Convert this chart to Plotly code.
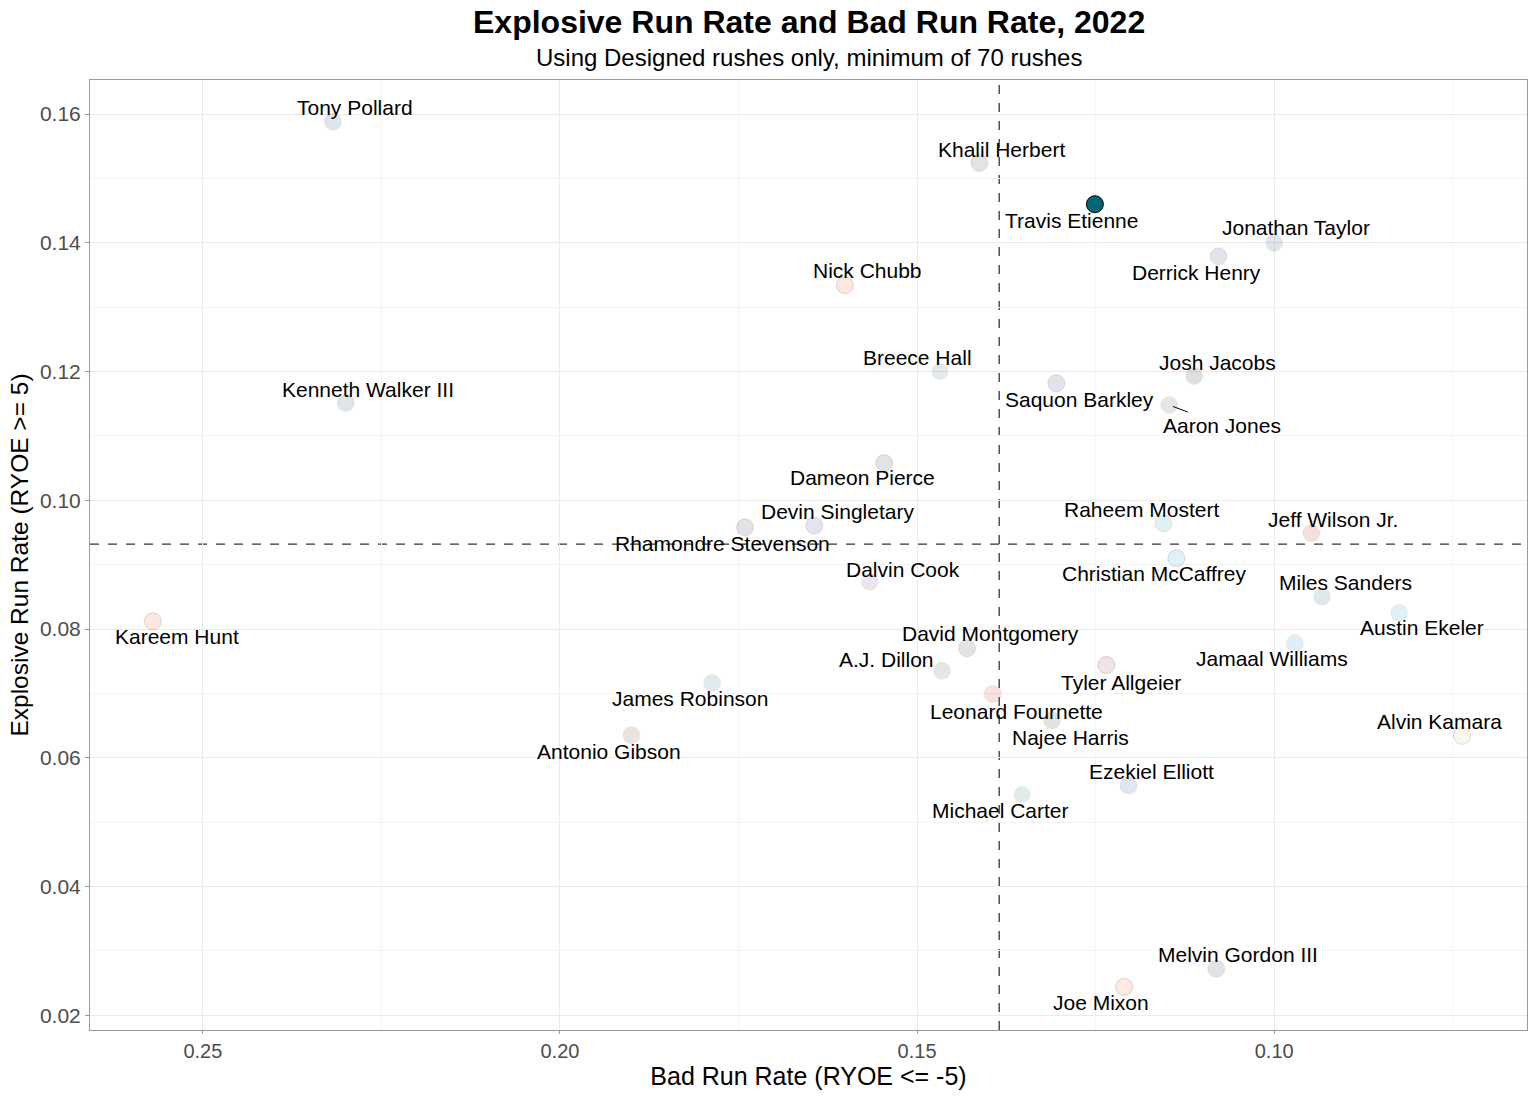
import plotly.graph_objects as go

players = ["Tony Pollard", "Khalil Herbert", "Travis Etienne", "Jonathan Taylor", "Derrick Henry",
           "Nick Chubb", "Breece Hall", "Saquon Barkley", "Josh Jacobs", "Aaron Jones",
           "Kenneth Walker III", "Dameon Pierce", "Devin Singletary", "Rhamondre Stevenson",
           "Raheem Mostert", "Jeff Wilson Jr.", "Christian McCaffrey", "Dalvin Cook",
           "Miles Sanders", "Austin Ekeler", "Kareem Hunt", "Jamaal Williams", "David Montgomery",
           "Tyler Allgeier", "A.J. Dillon", "James Robinson", "Leonard Fournette", "Najee Harris",
           "Antonio Gibson", "Alvin Kamara", "Ezekiel Elliott", "Michael Carter",
           "Melvin Gordon III", "Joe Mixon"]

bad_rate = [0.2318, 0.1413, 0.1251, 0.1000, 0.1078,
            0.1601, 0.1468, 0.1305, 0.1112, 0.1147,
            0.2300, 0.1546, 0.1644, 0.1741,
            0.1155, 0.0948, 0.1137, 0.1566,
            0.0933, 0.0825, 0.2570, 0.0971, 0.1430,
            0.1235, 0.1465, 0.1787, 0.1394, 0.1311,
            0.1900, 0.0737, 0.1204, 0.1353,
            0.1081, 0.1210]

explosive_rate = [0.1588, 0.1524, 0.1460, 0.1400, 0.1379,
                  0.1334, 0.1200, 0.1182, 0.1193, 0.1148,
                  0.1151, 0.1058, 0.0961, 0.0958,
                  0.0964, 0.0949, 0.0910, 0.0873,
                  0.0850, 0.0825, 0.0812, 0.0778, 0.0770,
                  0.0744, 0.0735, 0.0716, 0.0699, 0.0658,
                  0.0635, 0.0634, 0.0557, 0.0543,
                  0.0272, 0.0244]

team_primary = ["4,30,66", "11,22,42", "0,103,120", "0,44,95", "12,35,64",
                "255,60,0", "18,87,64", "11,34,101", "0,0,0", "32,55,49",
                "0,34,68", "3,32,47", "0,51,141", "0,34,68",
                "0,142,151", "170,0,0", "0,133,202", "79,38,131",
                "0,76,84", "0,128,198", "255,60,0", "0,118,182", "11,22,42",
                "167,25,48", "32,55,49", "0,103,120", "213,10,10", "16,24,32",
                "90,20,20", "211,188,141", "0,53,148", "18,87,64",
                "0,34,68", "251,79,20"]

team_secondary = ["134,147,151", "200,56,3", "0,0,0", "162,170,173", "75,146,219",
                  "49,29,0", "255,255,255", "167,25,48", "165,172,175", "255,182,18",
                  "105,190,40", "167,25,48", "198,12,48", "198,12,48",
                  "252,76,2", "179,153,93", "16,24,32", "255,198,47",
                  "165,172,175", "255,194,14", "49,29,0", "176,183,188", "200,56,3",
                  "0,0,0", "255,182,18", "215,162,42", "255,121,0", "255,182,18",
                  "255,182,18", "16,24,32", "134,147,151", "255,255,255",
                  "251,79,20", "0,0,0"]

highlight = "Travis Etienne"

mean_bad = 0.1385
mean_explosive = 0.0932

x_ticks = [0.25, 0.20, 0.15, 0.10]
x_tick_labels = ["0.25", "0.20", "0.15", "0.10"]
y_ticks = [0.02, 0.04, 0.06, 0.08, 0.10, 0.12, 0.14, 0.16]
y_tick_labels = ["0.02", "0.04", "0.06", "0.08", "0.10", "0.12", "0.14", "0.16"]

# label offsets (pixels, screen: +dx right, +dy down) mimicking ggrepel placement
label_offsets = {
    "Tony Pollard": (22, -14), "Khalil Herbert": (22, -14), "Travis Etienne": (-23, 16),
    "Jonathan Taylor": (22, -15), "Derrick Henry": (-22, 16), "Nick Chubb": (23, -15),
    "Breece Hall": (-22, -14), "Saquon Barkley": (23, 16), "Josh Jacobs": (23, -14),
    "Aaron Jones": (53, 20), "Kenneth Walker III": (22, -14), "Dameon Pierce": (-22, 15),
    "Devin Singletary": (23, -14), "Rhamondre Stevenson": (-22, 16), "Raheem Mostert": (-22, -14),
    "Jeff Wilson Jr.": (22, -14), "Christian McCaffrey": (-22, 15), "Dalvin Cook": (33, -13),
    "Miles Sanders": (23, -14), "Austin Ekeler": (23, 15), "Kareem Hunt": (24, 15),
    "Jamaal Williams": (-23, 15), "David Montgomery": (23, -15), "Tyler Allgeier": (15, 17),
    "A.J. Dillon": (-56, -11), "James Robinson": (-22, 15), "Leonard Fournette": (24, 17),
    "Najee Harris": (18, 17), "Antonio Gibson": (-22, 16), "Alvin Kamara": (-23, -14),
    "Ezekiel Elliott": (23, -14), "Michael Carter": (-22, 16), "Melvin Gordon III": (22, -14),
    "Joe Mixon": (-23, 16),
}
arrow_labels = {"Aaron Jones"}

FONT = "Liberation Sans, Arial, Helvetica, sans-serif"

fig = go.Figure()

fills, lines = [], []
for p, c1, c2 in zip(players, team_primary, team_secondary):
    if p == highlight:
        fills.append(f"rgb({c1})")
        lines.append("rgb(0,0,0)")
    else:
        fills.append(f"rgba({c1},0.12)")
        lines.append(f"rgba({c2},0.15)")

fig.add_trace(go.Scatter(
    x=bad_rate, y=explosive_rate, mode="markers",
    marker=dict(size=17, color=fills, line=dict(color=lines, width=1)),
    text=players, hoverinfo="text", showlegend=False,
))

fig.add_shape(type="line", xref="x", yref="paper", x0=mean_bad, x1=mean_bad, y0=0, y1=1,
              line=dict(color="#333333", width=1.3, dash="dash"), layer="below")
fig.add_shape(type="line", xref="paper", yref="y", x0=0, x1=1, y0=mean_explosive, y1=mean_explosive,
              line=dict(color="#333333", width=1.3, dash="dash"), layer="below")

for p, xv, yv in zip(players, bad_rate, explosive_rate):
    dx, dy = label_offsets[p]
    if p in arrow_labels:
        fig.add_annotation(x=xv, y=yv, text=p, showarrow=True, ax=dx, ay=dy,
                           arrowhead=0, arrowwidth=1, arrowcolor="#000000", standoff=4,
                           font=dict(family=FONT, size=21, color="#000000"))
    else:
        fig.add_annotation(x=xv, y=yv, text=p, showarrow=False, xshift=dx, yshift=-dy,
                           font=dict(family=FONT, size=21, color="#000000"))

fig.add_annotation(text="<b>Explosive Run Rate and Bad Run Rate, 2022</b>", xref="paper", yref="paper",
                   x=0.5, y=1, yshift=58, showarrow=False, yanchor="middle",
                   font=dict(family=FONT, size=32, color="#000000"))
fig.add_annotation(text="Using Designed rushes only, minimum of 70 rushes", xref="paper", yref="paper",
                   x=0.5, y=1, yshift=23, showarrow=False, yanchor="middle",
                   font=dict(family=FONT, size=24, color="#000000"))

fig.update_layout(
    width=1536, height=1097,
    margin=dict(l=90, r=9, t=80, b=67),
    paper_bgcolor="white", plot_bgcolor="white",
    font=dict(family=FONT, color="#000000"),
    xaxis=dict(
        range=[0.2658, 0.0646], tickvals=x_ticks, ticktext=x_tick_labels,
        showgrid=True, gridcolor="#ebebeb", gridwidth=1,
        minor=dict(showgrid=True, gridcolor="#f4f4f4", gridwidth=1, tickvals=[0.225, 0.175, 0.125, 0.075]),
        showline=True, linecolor="#9a9a9a", linewidth=1, mirror=True,
        ticks="outside", ticklen=3, tickcolor="#9a9a9a",
        tickfont=dict(family=FONT, size=20, color="#4d4d4d"),
        title=dict(text="Bad Run Rate (RYOE <= -5)", font=dict(family=FONT, size=25, color="#000000"), standoff=5),
        zeroline=False,
    ),
    yaxis=dict(
        range=[0.0177, 0.1653], tickvals=y_ticks, ticktext=y_tick_labels,
        showgrid=True, gridcolor="#ebebeb", gridwidth=1,
        minor=dict(showgrid=True, gridcolor="#f4f4f4", gridwidth=1,
                   tickvals=[0.03, 0.05, 0.07, 0.09, 0.11, 0.13, 0.15]),
        showline=True, linecolor="#9a9a9a", linewidth=1, mirror=True,
        ticks="outside", ticklen=4, tickcolor="#9a9a9a",
        tickfont=dict(family=FONT, size=21, color="#4d4d4d"),
        title=dict(text="Explosive Run Rate (RYOE >= 5)", font=dict(family=FONT, size=24.5, color="#000000"), standoff=4),
        zeroline=False,
    ),
)

# remove the default 8px page margin so the figure fills the window exactly
fig.write_html("out.html", config={"displayModeBar": False},
               post_script="document.body.style.margin='0';")
